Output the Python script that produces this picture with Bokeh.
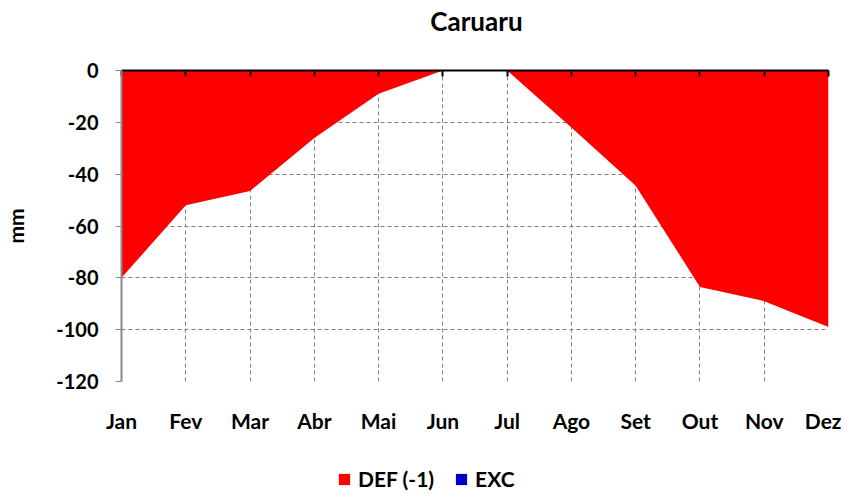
from bokeh.plotting import figure
from bokeh.layouts import column
from bokeh.models import Range1d, FixedTicker, LinearAxis, Legend, LegendItem, ColumnDataSource, Label
from bokeh.embed import file_html
from bokeh.resources import INLINE

months = ["Jan", "Fev", "Mar", "Abr", "Mai", "Jun", "Jul", "Ago", "Set", "Out", "Nov", "Dez"]
defic = [-80.0, -52.0, -46.5, -26.0, -9.0, 0.0, 0.0, -22.0, -44.5, -83.5, -89.0, -99.0]
exc = [0.0] * 12
y_ticks = [-120, -100, -80, -60, -40, -20, 0]
title_text = "Caruaru"
series_names = ["DEF (-1)", "EXC"]
series_colors = ["#FF0000", "#0000CC"]

FONT = "Lato"
W = 841
x = list(range(len(months)))
src = ColumnDataSource(dict(x=x, defic=defic, exc=exc, zero=[0.0] * 12))

# ---------- title strip ----------
pt = figure(width=W, height=48, x_range=Range1d(0, 1), y_range=Range1d(0, 1),
            output_backend="svg", toolbar_location=None,
            x_axis_location=None, y_axis_location=None,
            min_border=0, min_border_left=0, min_border_right=0, min_border_top=0, min_border_bottom=0)
pt.outline_line_color = None
pt.grid.visible = False
pt.add_layout(Label(x=0.502, y=0.58, text=title_text, text_align="center", text_baseline="middle",
                    text_font=FONT, text_font_size="26px", text_font_style="bold", text_color="black"))

# ---------- main plot ----------
p = figure(frame_width=707, frame_height=311, x_range=Range1d(0, 11), y_range=Range1d(-120, 0),
           output_backend="svg", toolbar_location=None,
           min_border_left=121, min_border_right=13, min_border_top=22, min_border_bottom=50)
p.outline_line_color = None

p.varea(x="x", y1="zero", y2="defic", source=src, fill_color=series_colors[0])
p.varea(x="x", y1="zero", y2="exc", source=src, fill_color=series_colors[1])

xa = p.xaxis[0]
xa.ticker = FixedTicker(ticks=x)
xa.major_label_overrides = {i: m for i, m in enumerate(months)}
xa.axis_line_color = None
xa.major_tick_line_color = None
xa.minor_tick_line_color = None
xa.major_label_standoff = 20
xa.major_label_text_font = FONT
xa.major_label_text_font_size = "21px"
xa.major_label_text_font_style = "bold"
xa.major_label_text_color = "black"

ta = LinearAxis(ticker=FixedTicker(ticks=x))
ta.major_label_overrides = {i: "" for i in x}
ta.major_label_text_font_size = "1px"
ta.major_label_standoff = 0
ta.axis_line_color = "black"
ta.axis_line_width = 2
ta.major_tick_line_color = "black"
ta.major_tick_line_width = 2
ta.major_tick_in = 6
ta.major_tick_out = 0
ta.minor_tick_line_color = None
p.add_layout(ta, "above")

ya = p.yaxis[0]
ya.ticker = FixedTicker(ticks=y_ticks)
ya.major_label_overrides = {t: str(t) for t in y_ticks}
ya.axis_line_color = "#888888"
ya.axis_line_width = 2
ya.major_tick_line_color = "#888888"
ya.major_tick_in = 0
ya.major_tick_out = 6
ya.minor_tick_line_color = None
ya.major_label_standoff = 17
ya.major_label_text_font = FONT
ya.major_label_text_font_size = "20px"
ya.major_label_text_font_style = "bold"
ya.major_label_text_color = "black"
ya.axis_label = "mm"
ya.axis_label_text_font = FONT
ya.axis_label_text_font_size = "21px"
ya.axis_label_text_font_style = "bold"
ya.axis_label_text_color = "black"
ya.axis_label_standoff = 25

p.xgrid.ticker = FixedTicker(ticks=x)
p.ygrid.ticker = FixedTicker(ticks=y_ticks)
for g in (p.xgrid[0], p.ygrid[0]):
    g.grid_line_color = "#808080"
    g.grid_line_dash = "4 3"
    g.grid_line_width = 1

# ---------- legend strip ----------
pl = figure(width=W, height=58, x_range=Range1d(0, 11), y_range=Range1d(10, 20),
            output_backend="svg", toolbar_location=None,
            x_axis_location=None, y_axis_location=None,
            min_border=0, min_border_left=0, min_border_right=0, min_border_top=0, min_border_bottom=0)
pl.outline_line_color = None
pl.grid.visible = False
# same series drawn out of view; only their legend entries show
l_def = pl.varea(x="x", y1="zero", y2="defic", source=src, fill_color=series_colors[0])
l_exc = pl.varea(x="x", y1="zero", y2="exc", source=src, fill_color=series_colors[1])
legend = Legend(items=[LegendItem(label=series_names[0], renderers=[l_def]),
                       LegendItem(label=series_names[1], renderers=[l_exc])],
                orientation="horizontal", location=(216, 2))
legend.label_text_font = FONT
legend.label_text_font_size = "21px"
legend.label_text_font_style = "bold"
legend.label_text_color = "black"
legend.glyph_width = 14
legend.glyph_height = 14
legend.label_standoff = 7
legend.spacing = 20
legend.padding = 0
legend.margin = 0
legend.border_line_color = None
legend.background_fill_alpha = 0
pl.add_layout(legend, "center")

layout = column(pt, p, pl, spacing=0)
open("out.html", "w").write(file_html(layout, INLINE))
